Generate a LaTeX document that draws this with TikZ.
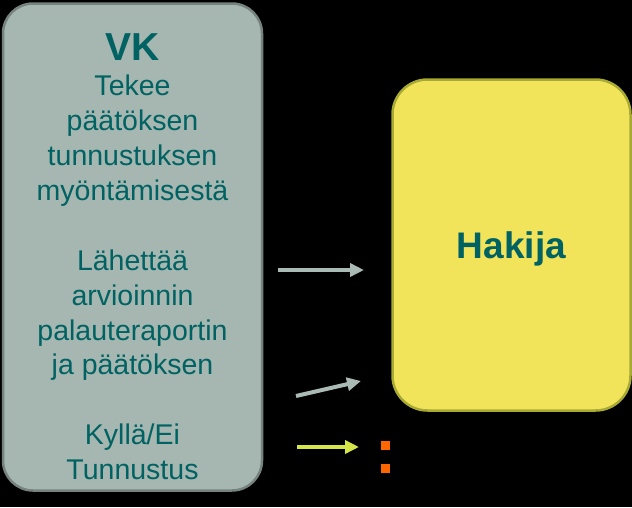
\documentclass[tikz,border=0pt]{standalone}
\usepackage{fontspec}
\setmainfont{Liberation Sans}
\usepackage{tikz}
\usetikzlibrary{arrows.meta}

\definecolor{vkfill}{RGB}{166,182,176}
\definecolor{vkedge}{RGB}{118,130,126}
\definecolor{hakfill}{RGB}{242,228,90}
\definecolor{hakedge}{RGB}{168,170,52}
\definecolor{teksti}{RGB}{0,98,98}
\definecolor{harmaa}{RGB}{170,186,180}
\definecolor{keltainen}{RGB}{212,230,72}
\definecolor{oranssi}{RGB}{255,102,0}

\begin{document}
\begin{tikzpicture}[x=1pt, y=-1pt,
  box/.style={draw, line width=2.5pt, rounded corners=30pt, inner sep=0pt},
  nuoli/.style={line width=4pt, -{Triangle[length=14pt,width=13pt]}},
  piste/.style={fill=oranssi, minimum size=9pt, inner sep=0pt}]
\fill[black] (0,0) rectangle (632,507);
\useasboundingbox (0,0) rectangle (632,507);

% boxes
\node[box, draw=vkedge, fill=vkfill, minimum width=259pt, minimum height=487pt]
      (vk) at (132.5,247) {};
\node[box, draw=hakedge, fill=hakfill, rounded corners=35pt,
      minimum width=238pt, minimum height=331pt]
      (hakija) at (511.5,245) {};

% texts
\node[anchor=north, inner sep=0pt, align=center, text=teksti,
      font=\fontsize{28.5}{34.9}\selectfont] (vkteksti) at (132.5,33.8)
  {{\fontsize{39}{34.9}\selectfont\bfseries VK}\\
   Tekee\\ päätöksen\\ tunnustuksen\\ myöntämisestä\\[34.9pt]
   Lähettää\\ arvioinnin\\ palauteraportin\\ ja päätöksen\\[34.9pt]
   Kyllä/Ei\\ Tunnustus};
\node[text=teksti, font=\fontsize{37}{40}\selectfont\bfseries]
      (hakteksti) at ([yshift=-4pt]hakija.center) {Hakija};

% arrows
\coordinate (a1) at (278,270);  \coordinate (b1) at (364,270);
\coordinate (a2) at (296,396);  \coordinate (b2) at (361,381);
\coordinate (a3) at (297,447);  \coordinate (b3) at (359,447);
\draw[nuoli, harmaa]    (a1) -- (b1);
\draw[nuoli, harmaa]    (a2) -- (b2);
\draw[nuoli, keltainen] (a3) -- (b3);

% orange dots
\node[piste] (p1) at (385,445) {};
\node[piste] (p2) at (385,468) {};
\end{tikzpicture}
\end{document}
